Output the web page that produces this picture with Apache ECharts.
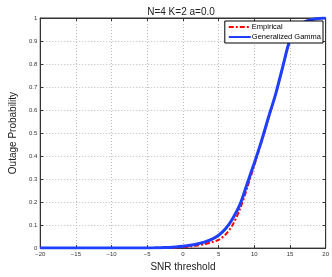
<!DOCTYPE html>
<html>
<head>
<meta charset="utf-8">
<script src="https://cdn.jsdelivr.net/npm/echarts@6/dist/echarts.min.js"></script>
<style>html,body{margin:0;padding:0;background:#fff;}#c{width:332px;height:277px;}</style>
</head>
<body>
<div id="c"></div>
<script>
const snr = [-20,-19,-18,-17,-16,-15,-14,-13,-12,-11,-10,-9,-8,-7,-6,-5,-4,-3,-2,-1,0,1,2,3,4,5,6,7,8,9,10,11,12,13,14,15,16,17,18,19,20];
const empirical = [0,0,0,0,0,0,0,0,0,0,0,0,0,0,0,0,0,0.0005,0.001,0.002,0.004,0.007,0.011,0.017,0.025,0.036,0.06,0.103,0.17,0.262,0.36,0.46,0.565,0.668,0.787,0.903,0.954,0.981,0.993,0.998,1.0];
const genGamma = [0,0,0,0,0,0,0,0,0,0,0,0,0,0,0,0.0005,0.001,0.002,0.003,0.005,0.008,0.012,0.018,0.026,0.038,0.056,0.085,0.13,0.19,0.28,0.37,0.465,0.57,0.67,0.79,0.905,0.955,0.982,0.993,0.998,1.0];
const xTicks = [-20,-15,-10,-5,0,5,10,15,20];
const yTicks = [0,0.1,0.2,0.3,0.4,0.5,0.6,0.7,0.8,0.9,1];

const chart = echarts.init(document.getElementById('c'));
const fnt = 'Liberation Sans, Arial, sans-serif';
const tickLbl = v => (v < 0 ? '\u2212' + Math.abs(v) : String(v));
const frame = {show: true, onZero: false, lineStyle: {color: '#333'}};
const tick = {show: true, inside: true, length: 3, lineStyle: {color: '#333'}};
chart.setOption({
  animation: false,
  title: {text: 'N=4 K=2 a=0.0', left: 176, top: 2, textAlign: 'center',
    textStyle: {fontFamily: fnt, fontSize: 10, fontWeight: 'normal', color: '#222'}},
  legend: {
    right: 9, top: 21, orient: 'vertical', backgroundColor: '#fff',
    borderColor: '#000', borderWidth: 1, borderRadius: 0, padding: [2, 2, 2, 3],
    itemGap: 2, itemWidth: 22, itemHeight: 6,
    itemStyle: {opacity: 0},
    textStyle: {fontFamily: fnt, fontSize: 7.5, color: '#000', padding: [0,0,0,-4]},
    data: ['Empirical', 'Generalized Gamma']
  },
  grid: {left: 27, right: 6, top: 18, bottom: 22, show: true, borderColor: '#333', borderWidth: 1},
  xAxis: [{
    type: 'value', min: -20, max: 20, interval: 5,
    name: 'SNR threshold', nameLocation: 'middle', nameGap: 10,
    nameTextStyle: {fontFamily: fnt, fontSize: 10, color: '#222'},
    axisLine: frame, axisTick: tick,
    axisLabel: {fontFamily: fnt, fontSize: 6, color: '#333', margin: 3,
      formatter: v => xTicks.includes(v) ? tickLbl(v) : ''},
    splitLine: {show: true, lineStyle: {color: '#bbb', type: [1, 2], width: 1}}
  }, {
    type: 'value', min: -20, max: 20, interval: 5, position: 'top',
    axisLine: frame, axisTick: tick,
    axisLabel: {show: false}, splitLine: {show: false}
  }],
  yAxis: [{
    type: 'value', min: 0, max: 1, interval: 0.1,
    name: 'Outage Probability', nameLocation: 'middle', nameGap: 16,
    nameTextStyle: {fontFamily: fnt, fontSize: 10, color: '#222'},
    axisLine: frame, axisTick: tick,
    axisLabel: {fontFamily: fnt, fontSize: 6, color: '#333', margin: 3,
      formatter: v => { const r = Math.round(v * 10) / 10; return yTicks.includes(r) ? String(r) : ''; }},
    splitLine: {show: true, lineStyle: {color: '#bbb', type: [1, 2], width: 1}}
  }, {
    type: 'value', min: 0, max: 1, interval: 0.1, position: 'right',
    axisLine: frame, axisTick: tick,
    axisLabel: {show: false}, splitLine: {show: false}
  }],
  series: [{
    name: 'Generalized Gamma', type: 'line', showSymbol: false, symbol: 'none', smooth: 0.3,
    data: snr.map((x, i) => [x, genGamma[i]]),
    lineStyle: {color: '#1f3fff', width: 3}, itemStyle: {color: '#1f3fff'}, z: 2
  }, {
    name: 'Empirical', type: 'line', showSymbol: false, symbol: 'none', smooth: 0.3,
    data: snr.map((x, i) => [x, empirical[i]]),
    lineStyle: {color: '#ff0000', width: 2, type: [5, 2, 2, 2]}, itemStyle: {color: '#ff0000'}, z: 1
  }]
});
</script>
</body>
</html>
